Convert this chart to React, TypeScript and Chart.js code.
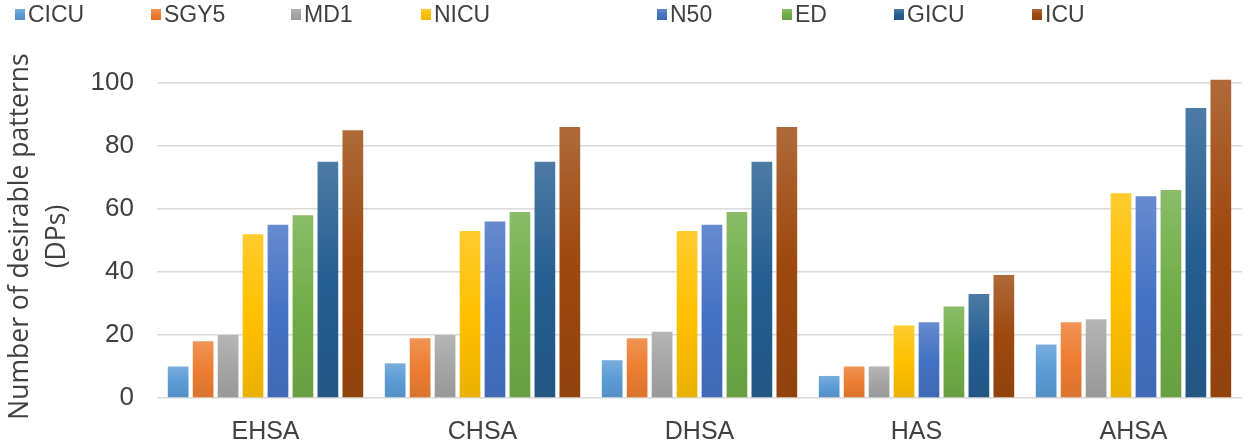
import React, { useEffect, useRef } from "react";
import { Chart, registerables } from "chart.js";

Chart.register(...registerables);

const categories = ["EHSA", "CHSA", "DHSA", "HAS", "AHSA"];
const seriesNames = ["CICU", "SGY5", "MD1", "NICU", "N50", "ED", "GICU", "ICU"];
const CICU = [10, 11, 12, 7, 17];
const SGY5 = [18, 19, 19, 10, 24];
const MD1 = [20, 20, 21, 10, 25];
const NICU = [52, 53, 53, 23, 65];
const N50 = [55, 56, 55, 24, 64];
const ED = [58, 59, 59, 29, 66];
const GICU = [75, 75, 75, 33, 92];
const ICU = [85, 86, 86, 39, 101];
const seriesValues = [CICU, SGY5, MD1, NICU, N50, ED, GICU, ICU];
const seriesColors = ["#5B9BD5", "#ED7D31", "#A5A5A5", "#FFC000", "#4472C4", "#70AD47", "#255E91", "#9E480E"];
const yTicks = [0, 20, 40, 60, 80, 100];

const legendLeft = [15, 151, 291, 421, 657, 782, 894, 1032];

function mix(hex: string, target: number, amt: number) {
  const n = parseInt(hex.slice(1), 16);
  const r = (n >> 16) & 255, g = (n >> 8) & 255, b = n & 255;
  const f = (c: number) => Math.round(c + (target - c) * amt);
  return `rgb(${f(r)},${f(g)},${f(b)})`;
}

const TEXT = "#404040";
const FONT = "'Liberation Sans', Arial, sans-serif";
const TITLE_FONT = "'Open Sans', 'Liberation Sans', sans-serif";

export default function App() {
  const ref = useRef<HTMLCanvasElement>(null);
  useEffect(() => {
    if (!ref.current) return;
    const chart = new Chart(ref.current, {
      type: "bar",
      data: {
        labels: categories,
        datasets: seriesNames.map((name, i) => ({
          label: name,
          data: seriesValues[i],
          categoryPercentage: 0.92,
          barPercentage: 0.83,
          backgroundColor: (ctx: any) => {
            const c = seriesColors[i];
            const chartObj = ctx.chart;
            const y = chartObj.scales?.y;
            if (!chartObj.chartArea || !y || ctx.raw == null) return c;
            const top = y.getPixelForValue(ctx.raw);
            const bot = y.getPixelForValue(0);
            if (!isFinite(top) || !isFinite(bot) || bot - top < 1) return c;
            const g = chartObj.ctx.createLinearGradient(0, top, 0, bot);
            g.addColorStop(0, mix(c, 255, 0.18));
            g.addColorStop(0.5, c);
            g.addColorStop(1, mix(c, 0, 0.08));
            return g;
          },
          borderWidth: 0,
        })),
      },
      options: {
        animation: false,
        responsive: false,
        layout: { padding: { top: 75, right: 8, left: 0, bottom: 0 } },
        plugins: { legend: { display: false }, tooltip: { enabled: false } },
        scales: {
          x: {
            grid: { display: false },
            border: { display: false },
            ticks: { color: TEXT, font: { family: FONT, size: 25 }, padding: 11 },
            afterFit: (s: any) => { s.height = 48; },
          },
          y: {
            min: 0,
            max: 102.5,
            afterBuildTicks: (axis: any) => {
              axis.ticks = yTicks.map((v) => ({ value: v }));
            },
            grid: { color: "#d9d9d9", lineWidth: 1.6, drawTicks: false },
            border: { display: false },
            ticks: { color: TEXT, font: { family: FONT, size: 26 }, padding: 23 },
            title: {
              display: true,
              text: ["Number of desirable patterns", "(DPs)"],
              color: TEXT,
              font: { family: TITLE_FONT, size: 26.5, lineHeight: 1.4 },
              padding: { top: 2, bottom: 0 },
            },
            afterFit: (s: any) => { s.width = 157; },
          },
        },
      },
    });
    return () => chart.destroy();
  }, []);

  return (
    <div style={{ position: "fixed", left: 0, top: 0, width: 1250, height: 446, background: "#fff" }}>
      <canvas ref={ref} width={1250} height={446} style={{ position: "absolute", left: 0, top: 0 }} />
      {seriesNames.map((name, i) => (
        <div
          key={name}
          style={{
            position: "absolute",
            left: legendLeft[i],
            top: 0,
            height: 28,
            display: "flex",
            alignItems: "center",
            fontFamily: FONT,
            fontSize: 23,
            color: TEXT,
            whiteSpace: "nowrap",
          }}
        >
          <span
            style={{
              display: "inline-block",
              width: 10,
              height: 11,
              marginRight: 3,
              background: `linear-gradient(${mix(seriesColors[i], 255, 0.18)}, ${seriesColors[i]}, ${mix(seriesColors[i], 0, 0.08)})`,
            }}
          />
          {name}
        </div>
      ))}
    </div>
  );
}
